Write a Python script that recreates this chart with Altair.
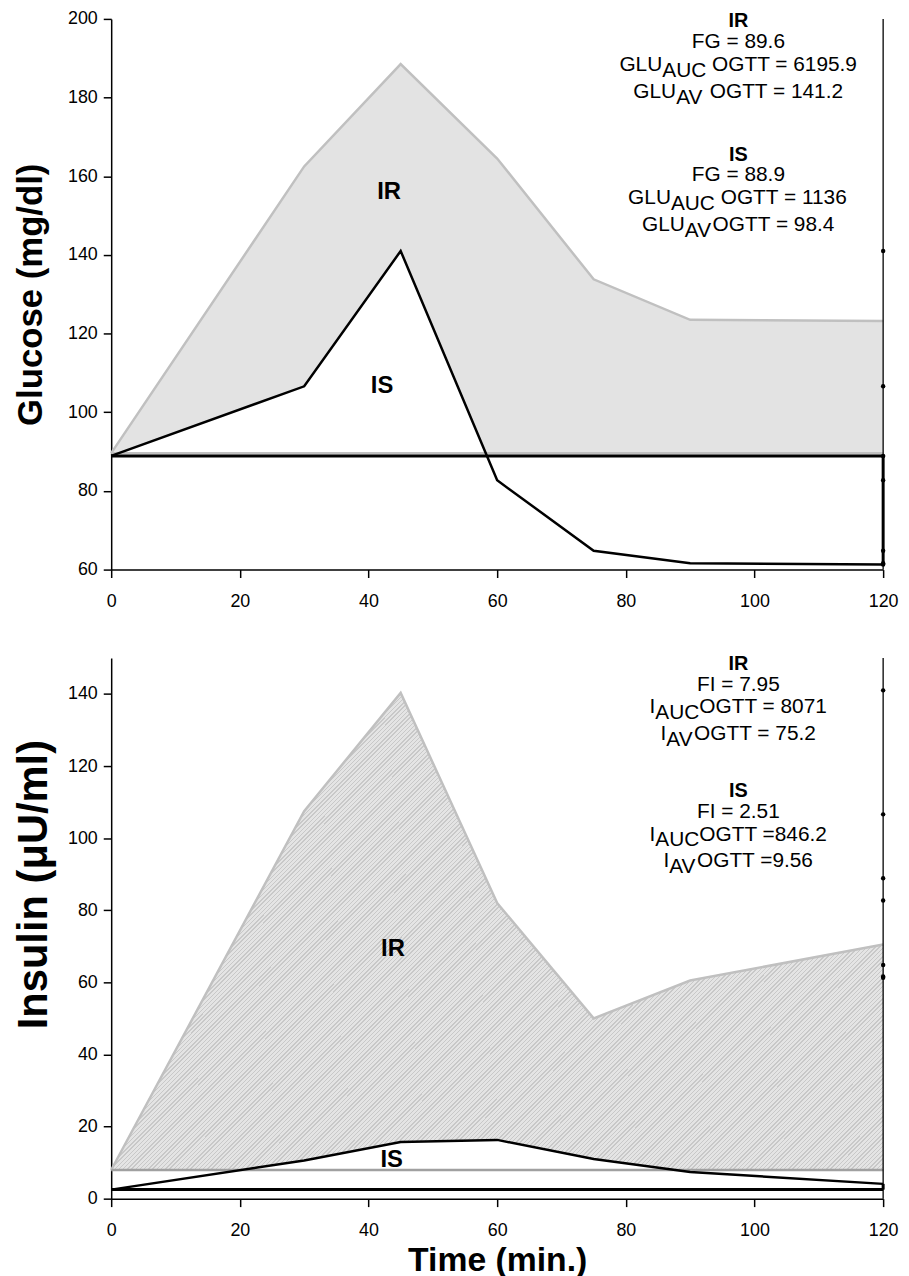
import altair as alt
import pandas as pd

# ---------------- data ----------------
time = [0, 30, 45, 60, 75, 90, 120]
glu_ir = [89.6, 162.5, 188.5, 164.5, 133.8, 123.5, 123.2]
glu_is = [88.9, 106.6, 141.0, 82.7, 64.8, 61.6, 61.3]
ins_ir = [7.95, 107.5, 140.3, 82.0, 50.0, 60.5, 70.5]
ins_is = [2.51, 10.6, 15.7, 16.3, 11.0, 7.4, 4.1]
fg_ir, fg_is = 89.6, 88.9
fi_ir, fi_is = 7.95, 2.51

x_ticks = [0, 20, 40, 60, 80, 100, 120]
glu_ticks = [60, 80, 100, 120, 140, 160, 180, 200]
ins_ticks = [0, 20, 40, 60, 80, 100, 120, 140]

# annotation lines: (y in data units, list of (text, kind)) kind: h=header, n=normal, s=subscript
glu_notes = [
    (199.5, [("IR", "h")]),
    (194.2, [("FG = 89.6", "n")]),
    (188.3, [("GLU", "n"), ("AUC", "s"), (" OGTT = 6195.9", "n")]),
    (181.5, [("GLU", "n"), ("AV", "s"), (" OGTT = 141.2", "n")]),
    (165.5, [("IS", "h")]),
    (160.2, [("FG = 88.9", "n")]),
    (154.35, [("GLU", "n"), ("AUC", "s"), (" OGTT = 1136", "n")]),
    (147.5, [("GLU", "n"), ("AV", "s"), ("OGTT = 98.4", "n")]),
]
ins_notes = [
    (148.4, [("IR", "h")]),
    (142.6, [("FI = 7.95", "n")]),
    (136.25, [("I", "n"), ("AUC", "s"), ("OGTT = 8071", "n")]),
    (128.8, [("I", "n"), ("AV", "s"), ("OGTT = 75.2", "n")]),
    (113.1, [("IS", "h")]),
    (107.35, [("FI = 2.51", "n")]),
    (101.0, [("I", "n"), ("AUC", "s"), ("OGTT =846.2", "n")]),
    (93.6, [("I", "n"), ("AV", "s"), ("OGTT =9.56", "n")]),
]
note_x = 97.5
glu_labels = pd.DataFrame({"t": [43.2, 42.1], "v": [156.1, 106.7], "txt": ["IR", "IS"]})
ins_labels = pd.DataFrame({"t": [43.8, 43.6], "v": [69.1, 10.7], "txt": ["IR", "IS"]})

# ---------------- style ----------------
FONT = "Liberation Sans"
W_PLOT, H_TOP, H_BOT = 778, 555, 545
FS = 21
AW = {' ': 278, '=': 584, '.': 278, 'A': 667, 'C': 722, 'F': 611, 'G': 778, 'I': 278,
      'L': 556, 'O': 778, 'T': 611, 'U': 722, 'V': 667, 'R': 722, 'S': 667}
for d in "0123456789":
    AW[d] = 556


def tw(s, size=FS):
    return sum(AW.get(c, 556) for c in s) / 1000.0 * size


def layout_notes(notes, xc):
    ppu = W_PLOT / 120.0
    rows = []
    for y, segs in notes:
        total = sum(tw(t) for t, _ in segs)
        left = xc - total / 2.0 / ppu
        cum = 0.0
        for t, kind in segs:
            if kind == "h":
                rows.append({"t": xc, "v": y, "txt": t, "kind": "h"})
            else:
                lead = len(t) - len(t.lstrip(" "))
                cum += tw(" " * lead)
                rows.append({"t": left + cum / ppu, "v": y, "txt": t.lstrip(" "), "kind": kind})
                cum += tw(t.lstrip(" "))
    return pd.DataFrame(rows)


def hatch(light="#e4e4e4", dark="#c8c8c8", period=0.003372, frac=0.34):
    stops = []
    k = 0
    while k * period < 1.0:
        t0 = k * period
        t1 = min(t0 + period * (1 - frac), 1.0)
        t2 = min(t0 + period, 1.0)
        stops += [{"offset": round(t0, 5), "color": light},
                  {"offset": round(t1, 5), "color": light},
                  {"offset": round(t1, 5), "color": dark},
                  {"offset": round(t2, 5), "color": dark}]
        k += 1
    return {"gradient": "linear", "x1": 0, "y1": 0, "x2": 1.171, "y2": 0.723, "stops": stops}


def panel(ir, is_, b_ir, b_is, ydom, yticks, ytitle, h, notes, labels, ir_fill, b_ir_color,
          show_xtitle, tsize, tpad, title_y=None):
    df = pd.DataFrame({"t": time, "ir": ir, "is": is_,
                       "b_ir": [b_ir] * len(time), "b_is": [b_is] * len(time)})
    xaxis = alt.Axis(values=x_ticks, title="Time (min.)" if show_xtitle else None)
    X = alt.X("t:Q", scale=alt.Scale(domain=[0, 120], nice=False, zero=False), axis=xaxis)
    ys = alt.Scale(domain=ydom, nice=False, zero=False)
    akw = dict(values=yticks, title=ytitle, titleFontSize=tsize, titlePadding=tpad)
    if title_y is not None:
        akw["titleY"] = title_y
    yaxis = alt.Axis(**akw)

    def Y(f):
        return alt.Y(f, scale=ys, axis=yaxis)

    base = alt.Chart(df)
    area_ir = base.mark_area(fill=ir_fill, strokeWidth=0).encode(X, Y("ir:Q"), y2="b_ir:Q")
    area_is = base.mark_area(fill="white", strokeWidth=0).encode(X, Y("is:Q"), y2="b_is:Q")
    line_ir = base.mark_line(color="#c0c0c0", strokeWidth=2.5).encode(X, Y("ir:Q"))
    base_ir = base.mark_line(color=b_ir_color, strokeWidth=2.5).encode(X, Y("b_ir:Q"))
    line_is = base.mark_line(color="black", strokeWidth=2.5).encode(X, Y("is:Q"))
    base_is = base.mark_line(color="black", strokeWidth=3).encode(X, Y("b_is:Q"))

    edge = pd.DataFrame({"t": [120], "lo": [ydom[0]], "hi": [ydom[1]],
                         "a": [b_is], "b": [is_[-1]]})
    rule_thin = alt.Chart(edge).mark_rule(color="black", strokeWidth=1.3).encode(
        X, Y("lo:Q"), y2="hi:Q")
    rule_thick = alt.Chart(edge).mark_rule(color="black", strokeWidth=3).encode(
        X, Y("a:Q"), y2="b:Q")
    dots_df = pd.DataFrame({"t": [120] * len(glu_is), "v": glu_is})
    dots = alt.Chart(dots_df).transform_filter(
        (alt.datum.v >= ydom[0]) & (alt.datum.v <= ydom[1])
    ).mark_circle(color="black", size=20, opacity=1).encode(X, Y("v:Q"))

    lab = alt.Chart(labels).mark_text(font=FONT, fontSize=24, fontWeight="bold",
                                      color="black", align="center", baseline="middle").encode(
        X, Y("v:Q"), text="txt:N")

    nd = layout_notes(notes, note_x)
    hdr = alt.Chart(nd[nd.kind == "h"]).mark_text(
        font=FONT, fontSize=20, fontWeight="bold", color="black", align="center",
        baseline="middle").encode(X, Y("v:Q"), text="txt:N")
    nrm = alt.Chart(nd[nd.kind == "n"]).mark_text(
        font=FONT, fontSize=FS, color="black", align="left",
        baseline="middle").encode(X, Y("v:Q"), text="txt:N")
    sub = alt.Chart(nd[nd.kind == "s"]).mark_text(
        font=FONT, fontSize=FS, color="black", align="left", baseline="middle",
        dy=6).encode(X, Y("v:Q"), text="txt:N")

    return alt.layer(area_ir, area_is, line_ir, base_ir, line_is, base_is,
                     rule_thin, rule_thick, dots, lab, hdr, nrm, sub).properties(
        width=W_PLOT, height=h)


top = panel(glu_ir, glu_is, fg_ir, fg_is, [60, 200], glu_ticks, "Glucose (mg/dl)", H_TOP,
            glu_notes, glu_labels, "#e3e3e3", "#c0c0c0", False, 35, 19)
bottom = panel(ins_ir, ins_is, fi_ir, fi_is, [0, 150], ins_ticks, "Insulin (\u03bcU/ml)", H_BOT,
               ins_notes, ins_labels, hatch(), "#a0a0a0", True, 42, 12, title_y=228)

chart = alt.vconcat(top, bottom, spacing=43).configure(
    padding={"left": 4, "top": -3, "right": 2, "bottom": 0},
    font=FONT,
).configure_view(stroke=None).configure_axis(
    grid=False, domainColor="black", domainWidth=1.5, tickColor="black", tickWidth=1.5,
    tickSize=8, labelFont=FONT, labelFontSize=18, labelColor="black", labelPadding=6,
    titleFont=FONT, titleFontWeight="bold", titleColor="black",
).configure_axisX(titlePadding=4, labelFlush=False, titleFontSize=34, labelPadding=15)

chart.save("out.html", embed_options={"renderer": "svg", "actions": False})
